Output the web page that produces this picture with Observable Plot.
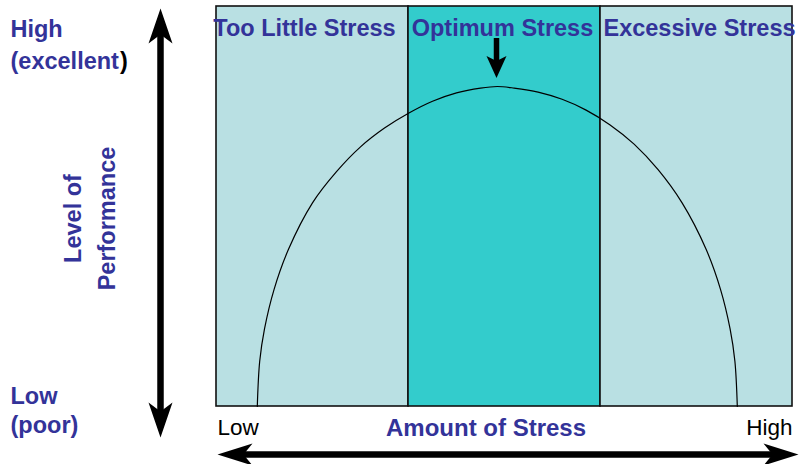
<!DOCTYPE html>
<html>
<head>
<meta charset="utf-8">
<script src="https://cdn.jsdelivr.net/npm/d3@7"></script>
<script src="https://cdn.jsdelivr.net/npm/@observablehq/plot@0.6"></script>
<style>
  html, body { margin: 0; padding: 0; background: #ffffff; }
  #chart { width: 799px; height: 464px; overflow: hidden; }
  svg { font-family: "Liberation Sans", Arial, sans-serif; }
</style>
</head>
<body>
<div id="chart"></div>
<script>
// ---- data ----
const zoneNames = ["Too Little Stress", "Optimum Stress", "Excessive Stress"];
const zoneStart = [0, 4, 8];
const zoneEnd = [4, 8, 12];
const zoneFill = ["#b9e0e3", "#33cccc", "#b9e0e3"];

// performance curve (stress 0–12, performance 0–100)
const stressX = [0.85, 0.9, 1.0, 1.2, 1.5, 2.0, 2.5, 3.0, 3.5, 4.0, 4.5, 5.0, 5.5, 5.85,
                 6.2, 6.7, 7.2, 7.7, 8.2, 8.7, 9.2, 9.7, 10.2, 10.5, 10.7, 10.8, 10.85];
const performanceY = [0, 11.3, 19.4, 29.3, 39.3, 50.9, 58.7, 64.9, 69.6, 73.3, 76.3, 78.4, 79.6, 80,
                      79.6, 78.6, 76.8, 74.1, 70.4, 65.6, 59.2, 50.9, 39.3, 29.3, 19.4, 11.3, 0];

const yAxisTitle = ["Level of", "Performance"];
const xAxisTitle = "Amount of Stress";
const yEndLabels = [["High", "(excellent"], ["Low", "(poor)"]];
const xEndLabels = ["Low", "High"];

// ---- build tables ----
const zones = zoneNames.map((name, i) => ({name, x1: zoneStart[i], x2: zoneEnd[i], fill: zoneFill[i]}));
const curve = stressX.map((x, i) => ({x, y: performanceY[i]}));

// pixel helpers (frame: x 216..792, y 406..6)
const PX = p => (p - 216) / 48;
const PY = p => (406 - p) / 4;

const BLUE = "#333399";
const FONT = "'Liberation Sans', Arial, sans-serif";

function head(len, halfW, notch, dir) {
  return {
    draw(ctx) {
      const pts = [[0, 0], [halfW, len], [0, notch], [-halfW, len]];
      const rot = ([a, b]) => dir === "up" ? [a, b] : dir === "down" ? [a, -b] : dir === "left" ? [b, a] : [-b, a];
      const p = pts.map(rot);
      ctx.moveTo(p[0][0], p[0][1]);
      for (let k = 1; k < p.length; k++) ctx.lineTo(p[k][0], p[k][1]);
      ctx.closePath();
    }
  };
}

const labelDx = [-8, -2, 3];

const chart = Plot.plot({
  width: 799,
  height: 464,
  marginLeft: 216,
  marginRight: 7,
  marginTop: 6,
  marginBottom: 58,
  x: {domain: [0, 12], axis: null},
  y: {domain: [0, 100], axis: null},
  style: {background: "transparent", fontFamily: FONT, overflow: "visible"},
  marks: [
    Plot.rect(zones, {x1: "x1", x2: "x2", y1: () => 0, y2: () => 100, fill: "fill", stroke: "#111", strokeWidth: 1.6}),
    Plot.line(curve, {x: "x", y: "y", stroke: "#000", strokeWidth: 1.2, curve: "catmull-rom"}),
    // zone labels
    ...zones.map((z, i) => Plot.text([z], {x: d => (d.x1 + d.x2) / 2, y: () => PY(35), text: "name",
      dx: labelDx[i], fill: BLUE, fontSize: 23.5, fontWeight: "bold", lineAnchor: "bottom", textAnchor: "middle"})),
    // optimum arrow
    Plot.ruleX([PX(496)], {y1: () => PY(38), y2: () => PY(62), stroke: "#000", strokeWidth: 5.5}),
    Plot.dot([0], {x: () => PX(496), y: () => PY(77.5), r: 10, fill: "#000", stroke: null, symbol: head(22, 10, 17, "down")}),
    // vertical double arrow
    Plot.ruleX([PX(160)], {y1: () => PY(32), y2: () => PY(412), stroke: "#000", strokeWidth: 6.5}),
    Plot.dot([0], {x: () => PX(160), y: () => PY(8), r: 10, fill: "#000", stroke: null, symbol: head(35, 12, 26, "up")}),
    Plot.dot([0], {x: () => PX(160), y: () => PY(437), r: 10, fill: "#000", stroke: null, symbol: head(35, 12, 26, "down")}),
    // horizontal double arrow
    Plot.ruleY([PY(454)], {x1: () => PX(240), x2: () => PX(775), stroke: "#000", strokeWidth: 6.5}),
    Plot.dot([0], {x: () => PX(217), y: () => PY(454), r: 10, fill: "#000", stroke: null, symbol: head(35, 11, 26, "left")}),
    Plot.dot([0], {x: () => PX(798), y: () => PY(454), r: 10, fill: "#000", stroke: null, symbol: head(35, 11, 26, "right")}),
    // y end labels
    Plot.text([yEndLabels[0][0]], {x: () => PX(10), y: () => PY(36), text: d => d, fill: BLUE, fontSize: 23.5, fontWeight: "bold", textAnchor: "start", lineAnchor: "bottom"}),
    Plot.text([yEndLabels[0][1]], {x: () => PX(10), y: () => PY(68), text: d => d, fill: BLUE, fontSize: 23.5, fontWeight: "bold", textAnchor: "start", lineAnchor: "bottom"}),
    Plot.text([")"], {x: () => PX(119.5), y: () => PY(68), text: d => d, fill: "#000", fontSize: 23.5, fontWeight: "bold", textAnchor: "start", lineAnchor: "bottom"}),
    Plot.text([yEndLabels[1][0]], {x: () => PX(10), y: () => PY(403), text: d => d, fill: BLUE, fontSize: 23.5, fontWeight: "bold", textAnchor: "start", lineAnchor: "bottom"}),
    Plot.text([yEndLabels[1][1]], {x: () => PX(10), y: () => PY(432), text: d => d, fill: BLUE, fontSize: 23.5, fontWeight: "bold", textAnchor: "start", lineAnchor: "bottom"}),
    // y axis title (rotated)
    Plot.text([yAxisTitle[0]], {x: () => PX(80), y: () => PY(218), text: d => d, fill: BLUE, fontSize: 23.5, fontWeight: "bold", rotate: -90, textAnchor: "middle", lineAnchor: "bottom"}),
    Plot.text([yAxisTitle[1]], {x: () => PX(114), y: () => PY(218), text: d => d, fill: BLUE, fontSize: 23.5, fontWeight: "bold", rotate: -90, textAnchor: "middle", lineAnchor: "bottom"}),
    // x end labels and title
    Plot.text([xEndLabels[0]], {x: () => PX(217), y: () => PY(434), text: d => d, fill: "#000", fontSize: 22.5, textAnchor: "start", lineAnchor: "bottom"}),
    Plot.text([xEndLabels[1]], {x: () => PX(792), y: () => PY(434), text: d => d, fill: "#000", fontSize: 22.5, textAnchor: "end", lineAnchor: "bottom"}),
    Plot.text([xAxisTitle], {x: () => PX(485.5), y: () => PY(435), text: d => d, fill: BLUE, fontSize: 24, fontWeight: "bold", textAnchor: "middle", lineAnchor: "bottom"})
  ]
});
document.getElementById("chart").appendChild(chart);
</script>
</body>
</html>
